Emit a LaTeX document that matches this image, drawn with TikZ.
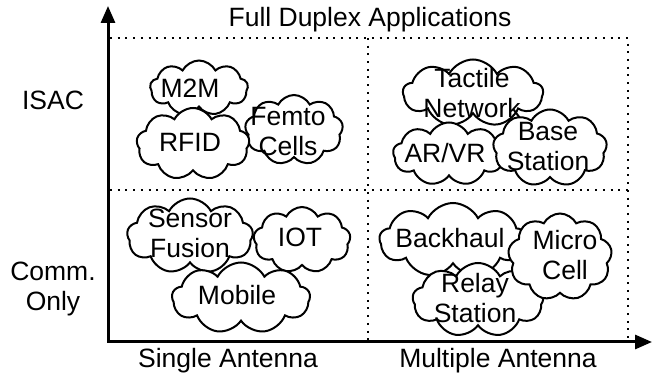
\documentclass[tikz,border=0pt]{standalone}
\usepackage{fontspec}
\setmainfont{Liberation Sans}
\usetikzlibrary{shapes.symbols, arrows.meta}

\tikzset{
  bubble/.style={cloud, draw, fill=white, line width=2pt, cloud puffs=9,
    cloud puff arc=125, cloud ignores aspect, inner sep=0pt},
  word/.style={align=center, font=\fontsize{26.5}{30}\selectfont, inner sep=0pt},
  grid/.style={line width=2pt, dash pattern=on 2pt off 5.7pt},
  axis/.style={line width=3pt, {Triangle[length=17pt,width=14pt]}-{Triangle[length=17pt,width=14pt]}}
}

\begin{document}
\begin{tikzpicture}[x=1pt, y=-1pt]
    \useasboundingbox (0, 0) rectangle (654, 379);

    % Quadrant grid
    \coordinate (nw) at (110, 38);
    \coordinate (ne) at (628, 38);
    \coordinate (se) at (628, 340);
    \coordinate (nm) at (368, 38);
    \coordinate (sm) at (368, 340);
    \coordinate (wm) at (110, 190);
    \coordinate (em) at (628, 190);
    \draw[grid] (nw) -- (ne) -- (se);
    \draw[grid] (nm) -- (sm);
    \draw[grid] (wm) -- (em);

    % Axes
    \coordinate (ytip) at (108, 6);
    \coordinate (xtip) at (652, 342);
    \draw[axis] (ytip) |- (xtip);

    % Axis labels
    \node[word] (title) at (370, 20) {Full Duplex Applications};
    \node[word] (isac) at (53, 100) {ISAC};
    \node[word] (comm) at (53, 289) {Comm.\\Only};
    \node[word] (single) at (228, 361) {Single Antenna};
    \node[word] (multi) at (498, 361) {Multiple Antenna};

    % ISAC, single antenna
    \node[bubble, minimum width=98pt, minimum height=55pt] (m2m) at (199, 88) {};
    \node[bubble, minimum width=98pt, minimum height=70pt] (femto) at (294, 130) {};
    \node[bubble, minimum width=113pt, minimum height=72pt] (rfid) at (193, 144) {};

    % ISAC, multiple antenna
    \node[bubble, minimum width=140pt, minimum height=67pt] (tactile) at (473, 93) {};
    \node[bubble, minimum width=112pt, minimum height=63pt] (arvr) at (449, 154) {};
    \node[bubble, minimum width=114pt, minimum height=77pt] (base) at (550, 148) {};

    % Comm. only, single antenna
    \node[bubble, minimum width=126pt, minimum height=75pt] (sensor) at (190, 236) {};
    \node[bubble, minimum width=97pt, minimum height=66pt] (iot) at (302, 240) {};
    \node[bubble, minimum width=138pt, minimum height=71pt] (mobile) at (241, 298) {};

    % Comm. only, multiple antenna
    \node[bubble, minimum width=147pt, minimum height=74pt] (backhaul) at (453, 240) {};
    \node[bubble, minimum width=131pt, minimum height=74pt] (relay) at (478, 300) {};
    \node[bubble, minimum width=104pt, minimum height=87pt] (micro) at (560, 257) {};

    % Cloud texts
    \node[word] (m2m-t) at (190, 88) {M2M};
    \node[word] (femto-t) at (288, 132) {Femto\\Cells};
    \node[word] (rfid-t) at (190, 142) {RFID};
    \node[word] (tactile-t) at (472, 93) {Tactile\\Network};
    \node[word] (arvr-t) at (445, 153) {AR/VR};
    \node[word] (base-t) at (548, 147) {Base\\Station};
    \node[word] (sensor-t) at (190, 233) {Sensor\\Fusion};
    \node[word] (iot-t) at (300, 237) {IOT};
    \node[word] (mobile-t) at (237, 295) {Mobile};
    \node[word] (backhaul-t) at (450, 238) {Backhaul};
    \node[word] (micro-t) at (565, 255) {Micro\\Cell};
    \node[word] (relay-t) at (475, 298) {Relay\\Station};
\end{tikzpicture}
\end{document}
